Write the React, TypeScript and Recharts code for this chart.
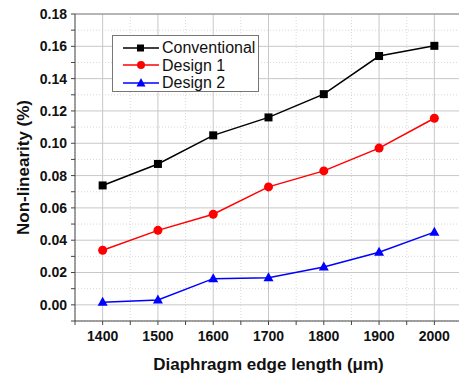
import { LineChart, Line, XAxis, YAxis, ReferenceLine } from "recharts";

const lengths = [1400, 1500, 1600, 1700, 1800, 1900, 2000];
const conventional = [0.0739, 0.0872, 0.1049, 0.116, 0.1304, 0.154, 0.1603];
const design1 = [0.0338, 0.0461, 0.0561, 0.073, 0.0829, 0.097, 0.1155];
const design2 = [0.0016, 0.003, 0.0162, 0.0168, 0.0234, 0.0326, 0.045];

const xMajor = [1400, 1500, 1600, 1700, 1800, 1900, 2000];
const xMinor = [1350, 1450, 1550, 1650, 1750, 1850, 1950, 2050];
const yMajor = [0, 0.02, 0.04, 0.06, 0.08, 0.1, 0.12, 0.14, 0.16, 0.18];
const yMinor = [-0.01, 0.01, 0.03, 0.05, 0.07, 0.09, 0.11, 0.13, 0.15, 0.17];

const data = lengths.map((len, i) => ({
  len,
  conventional: conventional[i],
  design1: design1[i],
  design2: design2[i],
}));

const xTicks = [...xMinor, ...xMajor].sort((a, b) => a - b);
const yTicks = [...yMinor, ...yMajor].sort((a, b) => a - b);

const FONT = "'Liberation Sans', Arial, sans-serif";
const tickStyle = { fontFamily: FONT, fontSize: 14, fontWeight: 700, fill: "#111" };

const isMajorY = (v: number) => Math.round(v * 100) % 2 === 0;

const Square = (p: any) => (
  <rect key={`sq-${p.index}`} x={p.cx - 4} y={p.cy - 4} width={8} height={8} fill="#000" />
);
const Circle = (p: any) => (
  <circle key={`ci-${p.index}`} cx={p.cx} cy={p.cy} r={4.5} fill="#ff0000" />
);
const Triangle = (p: any) => (
  <polygon
    key={`tr-${p.index}`}
    points={`${p.cx},${p.cy - 5.5} ${p.cx - 5},${p.cy + 3.5} ${p.cx + 5},${p.cy + 3.5}`}
    fill="#0000ff"
  />
);

const legendItems = [
  { name: "Conventional", color: "#000", shape: "square" },
  { name: "Design 1", color: "#ff0000", shape: "circle" },
  { name: "Design 2", color: "#0000ff", shape: "triangle" },
];

function LegendBox() {
  return (
    <div
      style={{
        position: "absolute",
        left: 112,
        top: 35,
        width: 147,
        height: 57,
        border: "1px solid #777",
        background: "#fff",
        boxSizing: "border-box",
        padding: "3px 0 0 8px",
        fontFamily: FONT,
        fontSize: 16,
        color: "#111",
      }}
    >
      {legendItems.map((it) => (
        <div key={it.name} style={{ display: "flex", alignItems: "center", height: 17.5 }}>
          <svg width={40} height={12}>
            <line x1={2} y1={6} x2={38} y2={6} stroke={it.color} strokeWidth={1.5} />
            {it.shape === "square" && <rect x={16} y={2.5} width={7} height={7} fill={it.color} />}
            {it.shape === "circle" && <circle cx={20} cy={6} r={4} fill={it.color} />}
            {it.shape === "triangle" && (
              <polygon points="20,1 15.5,9.5 24.5,9.5" fill={it.color} />
            )}
          </svg>
          <span style={{ marginLeft: 1, lineHeight: "17px" }}>{it.name}</span>
        </div>
      ))}
    </div>
  );
}

export default function App() {
  return (
    <div
      style={{
        position: "absolute",
        left: 0,
        top: 0,
        width: 459,
        height: 378,
        overflow: "hidden",
        background: "#fff",
      }}
    >
      <LineChart
        width={470}
        height={378}
        data={data}
        margin={{ top: 14, right: 8, left: 15, bottom: 27 }}
      >
        {xMinor.map((v) => (
          <ReferenceLine key={`xm-${v}`} x={v} stroke="#d8d8d8" strokeDasharray="1 2" />
        ))}
        {yMinor.map((v) => (
          <ReferenceLine key={`ym-${v}`} y={v} stroke="#d8d8d8" strokeDasharray="1 2" />
        ))}
        {xMajor.map((v) => (
          <ReferenceLine key={`xM-${v}`} x={v} stroke="#c8c8c8" />
        ))}
        {yMajor.map((v) => (
          <ReferenceLine key={`yM-${v}`} y={v} stroke="#c8c8c8" />
        ))}
        <XAxis
          dataKey="len"
          type="number"
          domain={[1350, 2050]}
          ticks={xTicks}
          interval={0}
          height={30}
          tickSize={4}
          tickMargin={6}
          stroke="#444"
          tick={tickStyle}
          tickFormatter={(v: number) => (v % 100 === 0 ? String(v) : "")}
          label={{
            value: "Diaphragm edge length (\u03bcm)",
            position: "bottom",
            offset: 7,
            style: { fontFamily: FONT, fontSize: 17, fontWeight: 700, fill: "#111" },
          }}
        />
        <XAxis
          xAxisId="top"
          orientation="top"
          type="number"
          domain={[1350, 2050]}
          ticks={xTicks}
          interval={0}
          height={1}
          mirror
          tickSize={4}
          stroke="#888"
          tick={false}
        />
        <YAxis
          type="number"
          domain={[-0.01, 0.18]}
          ticks={yTicks}
          interval={0}
          width={60}
          tickSize={4}
          tickMargin={4}
          stroke="#444"
          tick={tickStyle}
          tickFormatter={(v: number) => (isMajorY(v) ? v.toFixed(2) : "")}
          label={{
            value: "Non-linearity (%)",
            angle: -90,
            position: "insideLeft",
            offset: 0,
            dx: 8,
            style: {
              fontFamily: FONT,
              fontSize: 17,
              fontWeight: 700,
              fill: "#111",
              textAnchor: "middle",
            },
          }}
        />
        <YAxis
          yAxisId="right"
          orientation="right"
          type="number"
          domain={[-0.01, 0.18]}
          ticks={yTicks}
          interval={0}
          width={1}
          mirror
          tickSize={4}
          stroke="#888"
          tick={false}
        />
        <Line
          dataKey="conventional"
          stroke="#000"
          strokeWidth={1.5}
          dot={Square}
          isAnimationActive={false}
        />
        <Line
          dataKey="design1"
          stroke="#ff0000"
          strokeWidth={1.5}
          dot={Circle}
          isAnimationActive={false}
        />
        <Line
          dataKey="design2"
          stroke="#0000ff"
          strokeWidth={1.5}
          dot={Triangle}
          isAnimationActive={false}
        />
      </LineChart>
      <LegendBox />
    </div>
  );
}
